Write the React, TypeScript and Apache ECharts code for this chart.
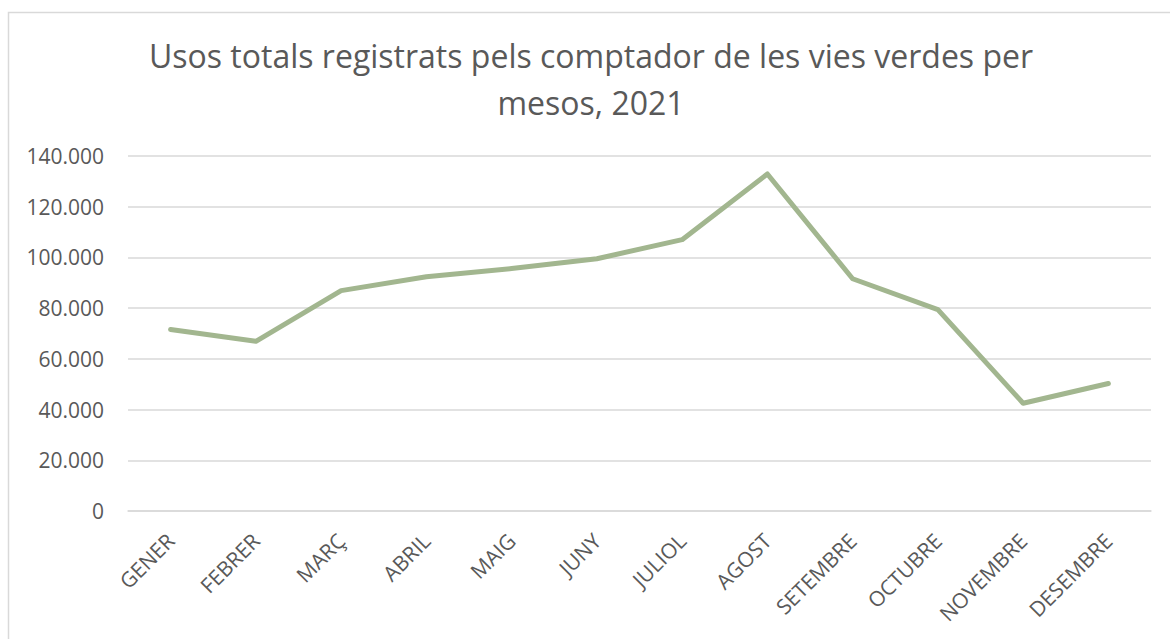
import React, { useEffect, useRef } from "react";
import * as echarts from "echarts";

const titleText = "Usos totals registrats pels comptador de les vies verdes per\nmesos, 2021";
const months = ["GENER", "FEBRER", "MARÇ", "ABRIL", "MAIG", "JUNY", "JULIOL", "AGOST", "SETEMBRE", "OCTUBRE", "NOVEMBRE", "DESEMBRE"];
const usos = [71600, 66900, 86900, 92400, 95600, 99500, 107000, 132900, 91600, 79400, 42500, 50300];

const fmt = (v: number) => String(v).replace(/\B(?=(\d{3})+(?!\d))/g, ".");

export default function App() {
  const ref = useRef<HTMLDivElement>(null);
  useEffect(() => {
    if (!ref.current) return;
    const chart = echarts.init(ref.current, null, { renderer: "svg" });
    const font = "'Open Sans', 'Noto Sans', sans-serif";
    chart.setOption({
      animation: false,
      backgroundColor: "#ffffff",
      title: {
        text: titleText,
        left: 586,
        top: 27,
        textAlign: "center",
        textStyle: {
          fontFamily: font,
          fontSize: 32,
          fontWeight: "normal",
          color: "#595959",
          lineHeight: 47,
        },
      },
      graphic: [
        {
          type: "rect",
          shape: { x: 8.5, y: 12.5, width: 1200, height: 700 },
          style: { fill: "none", stroke: "#d9d9d9", lineWidth: 1.5 },
          silent: true,
        },
      ],
      grid: { left: 128, right: 19, top: 156, bottom: 128 },
      xAxis: {
        type: "category",
        data: months,
        boundaryGap: true,
        axisLine: { show: true, lineStyle: { color: "#d9d9d9", width: 1.5 } },
        axisTick: { show: false },
        axisLabel: {
          rotate: 45,
          interval: 0,
          margin: 26,
          fontFamily: font,
          fontSize: 21,
          color: "#595959",
        },
      },
      yAxis: {
        type: "value",
        min: 0,
        max: 140000,
        interval: 20000,
        axisLine: { show: false },
        axisTick: { show: false },
        splitLine: { lineStyle: { color: "#d9d9d9", width: 1.5 } },
        axisLabel: {
          margin: 24,
          fontFamily: font,
          fontSize: 21,
          color: "#595959",
          formatter: (v: number) => fmt(v),
        },
      },
      series: [
        {
          type: "line",
          data: usos,
          symbol: "none",
          lineStyle: { color: "#a2b68f", width: 5, join: "round", cap: "round" },
          itemStyle: { color: "#a2b68f" },
        },
      ],
    });
    return () => chart.dispose();
  }, []);
  return (
    <div
      ref={ref}
      style={{ position: "fixed", left: 0, top: 0, width: 1170, height: 639 }}
    />
  );
}
